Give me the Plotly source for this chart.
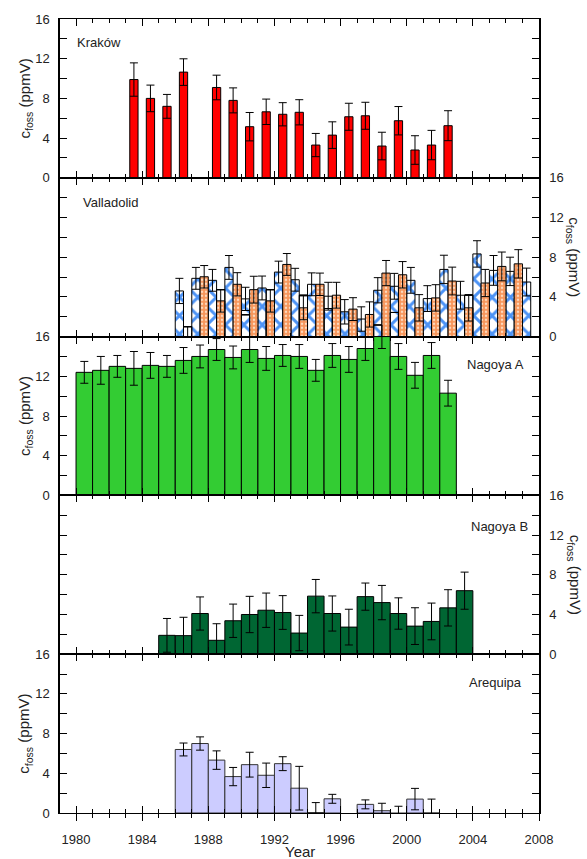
import plotly.graph_objects as go

# ---------------- data ----------------
tick_years = [1980, 1984, 1988, 1992, 1996, 2000, 2004, 2008]
tick_labels = ["1980", "1984", "1988", "1992", "1996", "2000", "2004", "2008"]
y_ticks = [0, 4, 8, 12, 16]
y_labels = ["0", "4", "8", "12", "16"]

krakow_years = [1983, 1984, 1985, 1986, 1988, 1989, 1990, 1991, 1992, 1993,
                1994, 1995, 1996, 1997, 1998, 1999, 2000, 2001, 2002]
krakow_vals = [9.9, 8.0, 7.2, 10.65, 9.1, 7.8, 5.15, 6.65, 6.4, 6.6,
               3.3, 4.3, 6.15, 6.25, 3.2, 5.75, 2.8, 3.3, 5.25]
krakow_err = [1.68, 1.34, 1.2, 1.34, 1.24, 1.26, 1.43, 1.28, 1.17, 1.27,
              1.17, 1.34, 1.36, 1.36, 1.39, 1.43, 1.44, 1.48, 1.51]

valla_a_years = list(range(1986, 2008))
valla_a_vals = [4.6, 5.87, 5.67, 6.97, 3.8, 4.9, 6.5, 5.73, 5.27, 2.83, 2.5,
                1.77, 4.67, 5.07, 5.67, 3.83, 6.77, 4.17, 8.33, 6.67, 6.57, 5.5]
valla_a_err = [1.27, 1.1, 1.1, 1.2, 1.17, 1.2, 1.1, 1.15, 1.15, None, 1.23,
               1.23, 1.27, 1.3, 1.3, 1.3, 1.43, 1.4, 1.33, 1.5, 1.43, 1.4]

valla_b_years = list(range(1986, 2007))
valla_b_vals = [-0.27, 6.03, 3.6, 5.27, 4.73, 3.6, 7.27, 2.9, 5.27, 4.17, 2.77,
                2.23, 6.4, 6.23, 2.9, 3.9, 5.6, 2.9, 5.4, 7.07, 7.33]
valla_b_err = [1.27, 1.13, 1.13, 1.17, 1.35, 1.13, 1.1, 1.2, 1.13, 1.3, 1.15,
               1.27, 1.27, 1.33, 1.33, 1.33, 1.4, 1.33, 1.37, 1.45, 1.43]

valla_o_years = [1986, 1988, 1990, 1991, 1993, 1995, 1998, 1999, 2003]
valla_o_slot = ["B", "B", "A", "B", "B", "A", "A", "A", "B"]
valla_o_vals = [1.0, 4.73, 2.2, 4.73, 4.17, 4.07, 1.17, 2.43, 4.17]
valla_o_err = [None, None, None, None, None, 1.4, None, None, None]

nagA_years = list(range(1980, 2003))
nagA_vals = [12.4, 12.6, 13.0, 12.8, 13.1, 13.0, 13.6, 14.0, 14.7, 13.9, 14.7, 13.8,
             14.1, 14.0, 12.6, 14.1, 13.7, 14.8, 16.0, 14.0, 12.1, 14.1, 10.3]
nagA_err = [1.1, 1.4, 1.1, 1.7, 1.3, 1.1, 1.3, 1.15, 1.1, 1.15, 1.3, 1.2,
            1.1, 1.2, 1.1, 1.2, 1.3, 1.2, 1.2, 1.3, 1.3, 1.3, 1.3]

nagB_years = list(range(1985, 2004))
nagB_vals = [1.9, 1.87, 4.1, 1.4, 3.37, 4.0, 4.43, 4.2, 2.13, 5.85,
             4.1, 2.73, 5.8, 5.2, 4.1, 2.83, 3.3, 4.67, 6.4]
nagB_err = [1.7, 1.85, 1.67, 1.67, 1.68, 1.83, 1.73, 1.7, 1.78, 1.68,
            1.77, 1.8, 1.37, 1.73, 1.58, 1.85, 1.85, 1.83, 1.87]

areq_years = list(range(1986, 2002))
areq_vals = [6.4, 7.0, 5.33, 3.67, 4.87, 3.8, 4.97, 2.5, 0.05, 1.43, None,
             0.87, 0.23, -0.4, 1.4, 0.0]
areq_err = [0.65, 0.67, 0.93, 0.92, 1.25, 1.23, 0.7, 2.2, 1.0, 0.45, None,
            0.45, 0.75, 1.08, 1.08, 1.4]

panel_names = ["Kraków", "Valladolid", "Nagoya A", "Nagoya B", "Arequipa"]

# ---------------- figure ----------------
FONT = "Liberation Sans, Arial, Helvetica, sans-serif"
fig = go.Figure()


def aid(i):
    return "" if i == 1 else str(i)


def err_dict(errs):
    return dict(type="data", array=errs, visible=True, color="black",
                thickness=1, width=4)


def add_bars(xs, ys, errs, i, width, marker):
    fig.add_trace(go.Bar(
        x=xs, y=ys, width=width, error_y=err_dict(errs),
        marker=marker, cliponaxis=False, hoverinfo="skip",
        xaxis="x" + aid(i), yaxis="y" + aid(i)))


edge = dict(color="black", width=1)

# Kraków
add_bars([y + 0.5 for y in krakow_years], krakow_vals, krakow_err, 1, 0.5,
         dict(color="#ff0000", line=edge))

# Valladolid
add_bars([y + 0.25 for y in valla_a_years], valla_a_vals, valla_a_err, 2, 0.5,
         dict(color="white", line=edge,
              pattern=dict(shape="x", fgcolor="#4d93f5", bgcolor="white",
                           size=13, solidity=0.4, fillmode="replace")))
add_bars([y + 0.75 for y in valla_b_years], valla_b_vals, valla_b_err, 2, 0.5,
         dict(color="#f7955a", line=edge,
              pattern=dict(shape=".", fgcolor="#fdd9bd", bgcolor="#f7955a",
                           size=4, solidity=0.3, fillmode="replace")))
add_bars([y + (0.25 if s == "A" else 0.75) for y, s in zip(valla_o_years, valla_o_slot)],
         valla_o_vals, valla_o_err, 2, 0.5,
         dict(color="rgba(0,0,0,0)", line=edge))

# Nagoya A
add_bars([y + 0.5 for y in nagA_years], nagA_vals, nagA_err, 3, 1.0,
         dict(color="#33cc33", line=edge))
# Nagoya B
add_bars([y + 0.5 for y in nagB_years], nagB_vals, nagB_err, 4, 1.0,
         dict(color="#006633", line=edge))
# Arequipa
add_bars([y + 0.5 for y in areq_years], areq_vals, areq_err, 5, 1.0,
         dict(color="#ccccff", line=dict(color="#333333", width=1)))

# helper invisible trace for the outer tick axis
fig.add_trace(go.Scatter(x=[1990], y=[-100], mode="markers",
                         marker=dict(opacity=0), hoverinfo="skip",
                         xaxis="x6", yaxis="y5"))

XR = [1979.03, 2008]
layout = dict(width=587, height=859,
              margin=dict(l=60, r=48, t=14, b=46),
              plot_bgcolor="white", paper_bgcolor="white",
              barmode="overlay", showlegend=False,
              font=dict(family=FONT, size=13, color="#222222"))

for i in range(1, 6):
    top = 1 - (i - 1) / 5
    bot = 1 - i / 5
    layout["xaxis" + aid(i)] = dict(
        domain=[0, 1], anchor="y" + aid(i), range=XR,
        showline=True, linecolor="black", linewidth=1, mirror="allticks",
        ticks="inside", ticklen=7, tickwidth=1.2, tickcolor="black",
        tickmode="array", tickvals=tick_years, showticklabels=False,
        showgrid=False, zeroline=False,
        minor=dict(dtick=1, tick0=1980, ticks="inside", ticklen=4,
                   tickwidth=1.2, tickcolor="black", showgrid=False))
    layout["yaxis" + aid(i)] = dict(
        domain=[bot, top], anchor="x" + aid(i), range=[0, 16],
        side="left" if i % 2 == 1 else "right",
        showline=True, linecolor="black", linewidth=1.5, mirror="allticks",
        ticks="inside", ticklen=7, tickwidth=1.2, tickcolor="black",
        tickmode="array", tickvals=y_ticks, ticktext=y_labels,
        ticklabelstandoff=6,
        showgrid=False, zeroline=False,
        minor=dict(dtick=2, tick0=0, ticks="inside", ticklen=7,
                   tickwidth=1.2, tickcolor="black", showgrid=False))

layout["xaxis6"] = dict(
    overlaying="x5", anchor="y5", side="bottom", range=XR,
    showline=True, linecolor="black", linewidth=1,
    ticks="outside", ticklen=7, tickwidth=1.2, tickcolor="black",
    tickmode="array", tickvals=tick_years, ticktext=tick_labels,
    ticklabelstandoff=7, showgrid=False, zeroline=False,
    minor=dict(dtick=1, tick0=1980, ticks="outside", ticklen=4,
               tickwidth=1.2, tickcolor="black", showgrid=False))

ann = []
ytitle = "c<sub>foss</sub> (ppmV)"
for i in range(1, 6):
    yc = 1 - (i - 0.5) / 5
    if i % 2 == 1:
        ann.append(dict(text=ytitle, x=-0.073, y=yc, xref="paper", yref="paper",
                        textangle=-90, showarrow=False, xanchor="center", yanchor="middle",
                        font=dict(size=15, color="#222222")))
    else:
        ann.append(dict(text=ytitle, x=1.073, y=yc, xref="paper", yref="paper",
                        textangle=90, showarrow=False, xanchor="center", yanchor="middle",
                        font=dict(size=15, color="#222222")))

label_pos = [(0.031, 0.971, "left"), (0.044, 0.7685, "left"),
             (0.973, 0.5645, "right"), (0.981, 0.3605, "right"),
             (0.969, 0.164, "right")]
for name, (px, py, anc) in zip(panel_names, label_pos):
    ann.append(dict(text=name, x=px, y=py, xref="paper", yref="paper",
                    showarrow=False, xanchor=anc, yanchor="middle",
                    font=dict(size=13, color="#222222")))

ann.append(dict(text="Year", x=0.5, y=-0.049, xref="paper", yref="paper",
                showarrow=False, xanchor="center", yanchor="middle",
                font=dict(size=15, color="#222222")))
layout["annotations"] = ann

fig.update_layout(**layout)
fig.write_html("out.html",
               config={"displayModeBar": False},
               post_script="document.body.style.margin='0';"
                           "document.body.style.overflow='hidden';")
